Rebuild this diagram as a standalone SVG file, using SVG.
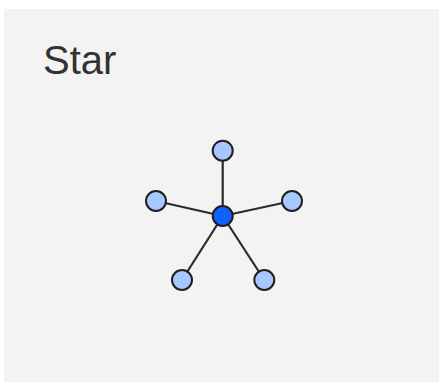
<svg xmlns="http://www.w3.org/2000/svg" width="439" height="383" viewBox="0 0 439 383">
<style>
.edge{stroke:#2b2b2b;stroke-width:2.2;fill:none}
.leaf{fill:#a6c8ff;stroke:#1f1f1f;stroke-width:2}
.hub{fill:#0f62fe;stroke:#1f1f1f;stroke-width:2}
.title{font-family:"Liberation Sans",Arial,sans-serif;font-size:40px;fill:#333333}
</style>
<rect x="0" y="0" width="439" height="383" fill="#ffffff"/>
<rect x="4" y="9" width="435" height="373" fill="#f3f3f3"/>
<text class="title" x="43" y="74">Star</text>
<g id="connectors">
<line class="edge" x1="222.7" y1="216" x2="222.7" y2="150.7"/>
<line class="edge" x1="222.7" y1="216" x2="156" y2="201"/>
<line class="edge" x1="222.7" y1="216" x2="292" y2="201"/>
<line class="edge" x1="222.7" y1="216" x2="182" y2="280"/>
<line class="edge" x1="222.7" y1="216" x2="264.3" y2="280"/>
</g>
<g id="n-top"><circle class="leaf" cx="222.7" cy="150.7" r="10"/></g>
<g id="n-left"><circle class="leaf" cx="156" cy="201" r="10"/></g>
<g id="n-right"><circle class="leaf" cx="292" cy="201" r="10"/></g>
<g id="n-bl"><circle class="leaf" cx="182" cy="280" r="10"/></g>
<g id="n-br"><circle class="leaf" cx="264.3" cy="280" r="10"/></g>
<g id="n-hub"><circle class="hub" cx="222.7" cy="216" r="10"/></g>
</svg>
